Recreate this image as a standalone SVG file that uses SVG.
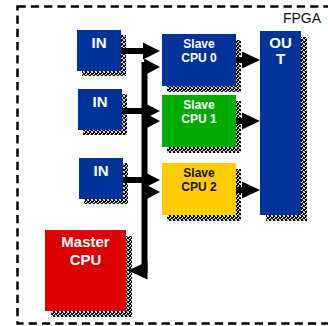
<svg xmlns="http://www.w3.org/2000/svg" width="328" height="326" viewBox="0 0 328 326">
<style>
.t{font-family:"Liberation Sans",Arial,sans-serif;font-weight:bold;text-anchor:middle}
.w{fill:#ffffff}
.k{fill:#111111}
.blue{fill:#003399}
.sh{fill:url(#dither)}
.ah{fill:#000000}
.ln{stroke:#000000;stroke-width:6;fill:none}
</style>
<defs>
<pattern id="dither" x="0" y="0" width="4" height="4" patternUnits="userSpaceOnUse">
<rect width="4" height="4" fill="#000000"/>
<rect x="0" y="0" width="1" height="1" fill="#ffffff"/>
<rect x="2" y="1" width="1" height="1" fill="#ffffff"/>
<rect x="1" y="2" width="1" height="1" fill="#dddddd"/>
<rect x="3" y="3" width="1" height="1" fill="#ffffff"/>
<rect x="3" y="0" width="1" height="1" fill="#aaaaaa"/>
<rect x="0" y="3" width="1" height="1" fill="#bbbbbb"/>
<rect x="2" y="2" width="1" height="1" fill="#888888"/>
</pattern>
</defs>
<rect width="328" height="326" fill="#ffffff"/>
<g id="fpga">
<rect x="17.5" y="6.5" width="330" height="317" fill="none" stroke="#000000" stroke-width="2.5" stroke-dasharray="8.3,5"/>
<text x="302" y="22.5" style="font-family:'Liberation Sans',Arial,sans-serif;font-size:14px;text-anchor:middle" fill="#111111">FPGA</text>
</g>
<g id="in0">
<rect class="sh" x="82" y="35" width="44" height="41"/>
<rect class="blue" x="77" y="30" width="44" height="41"/>
<text class="t w" x="99" y="47.5" font-size="15">IN</text>
</g>
<g id="in1">
<rect class="sh" x="83" y="94" width="44" height="41"/>
<rect class="blue" x="78" y="89" width="44" height="41"/>
<text class="t w" x="100" y="106.5" font-size="15">IN</text>
</g>
<g id="in2">
<rect class="sh" x="84" y="163" width="44" height="41"/>
<rect class="blue" x="79" y="158" width="44" height="41"/>
<text class="t w" x="101" y="175.5" font-size="15">IN</text>
</g>
<g id="master">
<rect class="sh" x="51" y="236" width="81" height="81"/>
<rect x="45" y="230" width="81" height="81" fill="#dd0000"/>
<text class="t w" x="85.5" y="247" font-size="15">Master</text>
<text class="t w" x="85.5" y="264.5" font-size="15">CPU</text>
</g>
<g id="slave0">
<rect class="sh" x="167" y="40" width="74" height="52"/>
<rect class="blue" x="162" y="34" width="74" height="52"/>
<text class="t w" x="199" y="47.7" font-size="12">Slave</text>
<text class="t w" x="199" y="61.7" font-size="12">CPU 0</text>
</g>
<g id="slave1">
<rect class="sh" x="167" y="101" width="74" height="52"/>
<rect x="162" y="95" width="74" height="52" fill="#00aa00"/>
<text class="t w" x="199" y="108.5" font-size="12">Slave</text>
<text class="t w" x="199" y="122.5" font-size="12">CPU 1</text>
</g>
<g id="slave2">
<rect class="sh" x="167" y="169" width="74" height="52"/>
<rect x="162" y="163" width="74" height="52" fill="#ffcc00"/>
<text class="t k" x="199" y="177" font-size="12">Slave</text>
<text class="t k" x="199" y="191.3" font-size="12">CPU 2</text>
</g>
<g id="out">
<rect class="sh" x="266" y="37" width="41" height="184"/>
<rect class="blue" x="260" y="31" width="41" height="184"/>
<text class="t w" x="280.5" y="48.3" font-size="15">OU</text>
<text class="t w" x="280.5" y="64.3" font-size="15">T</text>
</g>
<g id="connectors">
<path class="ln" d="M121 51H145M122 111H145M123 180H145"/>
<path class="ln" d="M144.5 62V273"/>
<path class="ah" d="M143 42.5L160 51L143 59.5ZM143 102.5L160 111L143 119.5ZM143 171.5L160 180L143 188.5Z"/>
<path class="ah" d="M144 58.5L160 67L144 75.5ZM144 112.5L160 121L144 129.5ZM144 183.5L160 192L144 200.5Z"/>
<path class="ah" d="M147.5 261.5L128 270.5L147.5 279.5Z"/>
<path class="ln" d="M236 60H244M236 121H244M236 190H244"/>
<path class="ah" d="M242 51.5L260 60L242 68.5ZM242 112.5L260 121L242 129.5ZM242 181.5L260 190L242 198.5Z"/>
</g>
</svg>
